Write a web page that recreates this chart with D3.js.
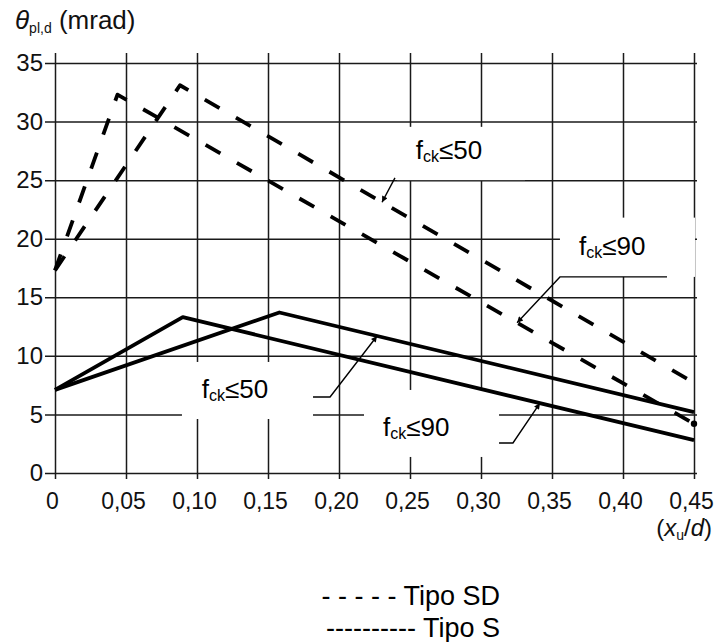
<!DOCTYPE html>
<html>
<head>
<meta charset="utf-8">
<script src="https://cdn.jsdelivr.net/npm/d3@7"></script>
<style>
  html, body { margin: 0; padding: 0; background: #fff; }
  svg { display: block; font-family: "Liberation Sans", Arial, sans-serif; }
</style>
</head>
<body>
<svg id="chart" width="715" height="642"></svg>
<script>
// ---- data ----
const xTicks = [0, 0.05, 0.10, 0.15, 0.20, 0.25, 0.30, 0.35, 0.40, 0.45];
const xTickLabels = ["0", "0,05", "0,10", "0,15", "0,20", "0,25", "0,30", "0,35", "0,40", "0,45"];
const yTicks = [0, 5, 10, 15, 20, 25, 30, 35];
const yTickLabels = ["0", "5", "10", "15", "20", "25", "30", "35"];

// Tipo SD (dashed)
const sdFck50X = [0, 0.088, 0.45];
const sdFck50Y = [17.3, 33.1, 7.7];
const sdFck90X = [0, 0.044, 0.45];
const sdFck90Y = [17.3, 32.3, 4.2];
// Tipo S (solid)
const sFck50X = [0, 0.158, 0.45];
const sFck50Y = [7.1, 13.7, 5.2];
const sFck90X = [0, 0.09, 0.45];
const sFck90Y = [7.1, 13.3, 2.8];

const legendLabels = ["- - - - - Tipo SD", "---------- Tipo S"];

// ---- layout ----
const svg = d3.select("#chart");
const x = d3.scaleLinear().domain([0, 0.45]).range([55, 694]);
const y = d3.scaleLinear().domain([0, 35]).range([473, 63]);

const zip = (xs, ys) => xs.map((v, i) => [v, ys[i]]);
const series = [
  { name: "sd50", pts: zip(sdFck50X, sdFck50Y), dashed: true },
  { name: "sd90", pts: zip(sdFck90X, sdFck90Y), dashed: true },
  { name: "s50",  pts: zip(sFck50X, sFck50Y), dashed: false },
  { name: "s90",  pts: zip(sFck90X, sFck90Y), dashed: false }
];
const byName = Object.fromEntries(series.map(s => [s.name, s.pts]));
function valueAt(name, xv) {
  const p = byName[name];
  for (let i = 0; i < p.length - 1; i++) {
    if (xv >= p[i][0] && xv <= p[i + 1][0]) {
      const t = (xv - p[i][0]) / (p[i + 1][0] - p[i][0]);
      return p[i][1] + t * (p[i + 1][1] - p[i][1]);
    }
  }
  return p[p.length - 1][1];
}

const gridColor = "#1a1a1a";

// X grid + labels
const xAxis = d3.axisBottom(x).tickValues(xTicks)
  .tickFormat((d, i) => xTickLabels[i])
  .tickSize(-(479 - 53)).tickPadding(14);
const gx = svg.append("g").attr("transform", "translate(0,479)").call(xAxis);
gx.select(".domain").remove();
gx.selectAll(".tick line").attr("stroke", gridColor).attr("stroke-width", 1.5);
gx.selectAll(".tick text").attr("fill", "#111").attr("font-size", 23)
  .attr("font-family", '"Liberation Sans", Arial, sans-serif').attr("dx", -3);

// Y grid + labels
const yAxis = d3.axisLeft(y).tickValues(yTicks)
  .tickFormat((d, i) => yTickLabels[i])
  .tickSize(-(697 - 45)).tickPadding(2);
const gy = svg.append("g").attr("transform", "translate(45,0)").call(yAxis);
gy.select(".domain").remove();
gy.selectAll(".tick line").attr("stroke", gridColor).attr("stroke-width", 1.5);
gy.selectAll(".tick text").attr("fill", "#111").attr("font-size", 24)
  .attr("font-family", '"Liberation Sans", Arial, sans-serif');

// ---- annotation boxes (white, hide grid) ----
const annotations = [
  { label: "50", box: [0.2408, 0.3310, 29.55, 25.0], text: [0.254, 26.8],
    leader: [[0.2394, 25.19]], target: { s: "sd50", x: 0.2303 } },
  { label: "90", box: [0.3556, 0.4507, 21.8, 16.74], text: [0.369, 18.6],
    leader: [[0.431, 16.74], [0.3556, 16.74]], target: { s: "sd90", x: 0.3254 } },
  { label: "50", box: [0.0894, 0.1817, 9.48, 4.61], text: [0.1033, 6.4],
    leader: [[0.1817, 6.49], [0.1937, 6.49]], target: { s: "s50", x: 0.2268 } },
  { label: "90", box: [0.2176, 0.3127, 7.09, 1.37], text: [0.231, 3.16],
    leader: [[0.3127, 2.56], [0.3225, 2.56]], target: { s: "s90", x: 0.3415 } }
];

svg.append("g").selectAll("rect").data(annotations).join("rect")
  .attr("x", d => x(d.box[0])).attr("y", d => y(d.box[2]))
  .attr("width", d => x(d.box[1]) - x(d.box[0]))
  .attr("height", d => y(d.box[3]) - y(d.box[2]))
  .attr("fill", "#fff");

// ---- data lines ----
const line = d3.line().x(d => x(d[0])).y(d => y(d[1]));
svg.append("g").selectAll("path").data(series).join("path")
  .attr("d", d => line(d.pts))
  .attr("fill", "none")
  .attr("stroke", "#000")
  .attr("stroke-width", 3.8)
  .attr("stroke-linejoin", "round")
  .attr("stroke-dasharray", d => d.dashed ? "17,19" : null);

// end dot of the sd90 dashed line
const sd90End = byName.sd90[byName.sd90.length - 1];
svg.append("circle").attr("cx", x(sd90End[0])).attr("cy", y(sd90End[1]))
  .attr("r", 3.2).attr("fill", "#000");

// ---- leaders with arrowheads ----
const defs = svg.append("defs");
defs.append("marker").attr("id", "arr").attr("viewBox", "0 0 10 10")
  .attr("refX", 10).attr("refY", 5).attr("markerWidth", 11).attr("markerHeight", 6)
  .attr("markerUnits", "userSpaceOnUse").attr("orient", "auto")
  .append("path").attr("d", "M0,0 L10,5 L0,10 Z").attr("fill", "#000");

svg.append("g").selectAll("path").data(annotations).join("path")
  .attr("d", d => {
    const pts = d.leader.concat([[d.target.x, valueAt(d.target.s, d.target.x)]]);
    return line(pts);
  })
  .attr("fill", "none").attr("stroke", "#000").attr("stroke-width", 1.4)
  .attr("marker-end", "url(#arr)");

// label texts
const lt = svg.append("g").selectAll("text").data(annotations).join("text")
  .attr("x", d => x(d.text[0])).attr("y", d => y(d.text[1]))
  .attr("font-size", 26).attr("fill", "#000");
lt.append("tspan").text("f");
lt.append("tspan").attr("font-size", 16).attr("dy", 3).text("ck");
lt.append("tspan").attr("dy", -3).text(d => "\u2264" + d.label);

// ---- axis titles ----
const t = svg.append("text").attr("x", 15).attr("y", 29).attr("font-size", 26).attr("fill", "#111");
t.append("tspan").attr("font-style", "italic").text("\u03B8");
t.append("tspan").attr("font-size", 14).attr("dy", 4).text("pl,d");
t.append("tspan").attr("dy", -4).text(" (mrad)");

const xt = svg.append("text").attr("x", 712).attr("y", 536).attr("text-anchor", "end")
  .attr("font-size", 24).attr("fill", "#111");
xt.append("tspan").text("(");
xt.append("tspan").attr("font-style", "italic").text("x");
xt.append("tspan").attr("font-size", 14).attr("dy", 4).text("u");
xt.append("tspan").attr("dy", -4).text("/");
xt.append("tspan").attr("font-style", "italic").text("d");
xt.append("tspan").text(")");

// ---- legend ----
svg.append("g").selectAll("text").data(legendLabels).join("text")
  .attr("x", 500).attr("y", (d, i) => 605 + i * 32)
  .attr("text-anchor", "end").attr("font-size", 27).attr("fill", "#000")
  .attr("xml:space", "preserve").style("white-space", "pre")
  .text(d => d);
</script>
</body>
</html>
